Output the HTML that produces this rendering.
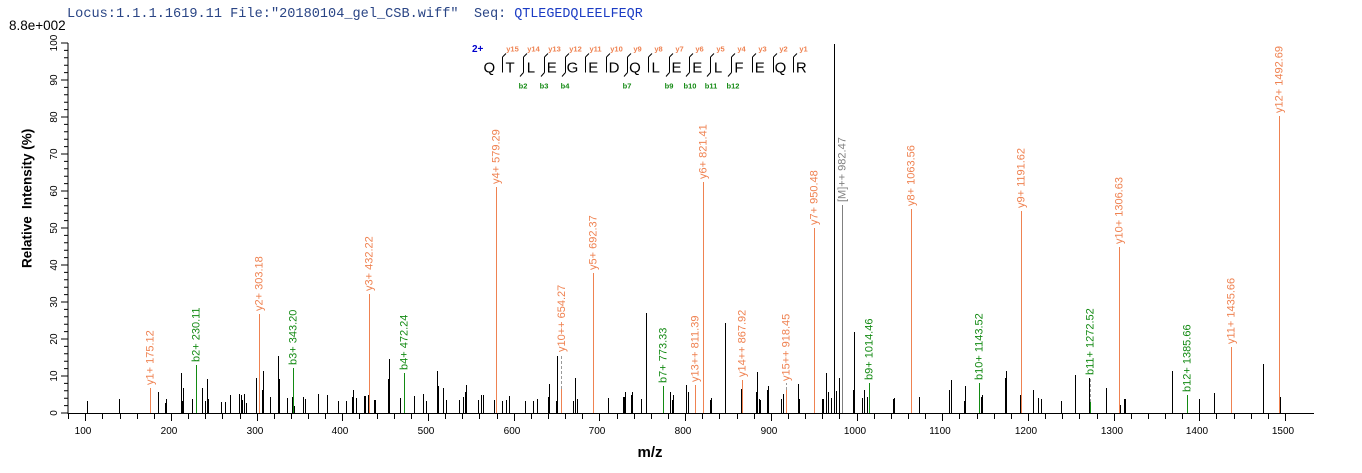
<!DOCTYPE html>
<html><head><meta charset="utf-8"><style>
html,body{margin:0;padding:0;background:#fff;}
svg{display:block;}
.l{font-family:"Liberation Sans",Arial,sans-serif;font-size:11px;dominant-baseline:central;}
.o{fill:#EF8251;}
.g{fill:#138a13;}
.gr{fill:#808080;}
.tk{font-family:"Liberation Sans",Arial,sans-serif;font-size:10px;fill:#000;}
</style></head><body>
<svg width="1362" height="473" viewBox="0 0 1362 473" xmlns="http://www.w3.org/2000/svg">
<rect width="1362" height="473" fill="#fff"/>
<!-- header -->
<text x="67" y="17" font-family="Liberation Mono, monospace" font-size="13.6" fill="#2a4585">Locus:1.1.1.1619.11 File:"20180104_gel_CSB.wiff"</text>
<text x="474" y="17" font-family="Liberation Mono, monospace" font-size="13.4" fill="#2a4585">Seq: <tspan fill="#1b3cc4">QTLEGEDQLEELFEQR</tspan></text>
<text x="9" y="30" font-family="Liberation Sans, Arial, sans-serif" font-size="13.5" fill="#000">8.8e+002</text>

<!-- axes -->
<path d="M68 43V413.5M67.5 413.5H1314" stroke="#000" stroke-width="1" fill="none"/>
<!-- y ticks -->
<path stroke="#000" stroke-width="1" fill="none" d="M61 413H68M64 405.6H68M64 398.2H68M64 390.8H68M64 383.4H68M61 376H68M64 368.6H68M64 361.2H68M64 353.8H68M64 346.4H68M61 339H68M64 331.6H68M64 324.2H68M64 316.8H68M64 309.4H68M61 302H68M64 294.6H68M64 287.2H68M64 279.8H68M64 272.4H68M61 265H68M64 257.6H68M64 250.2H68M64 242.8H68M64 235.4H68M61 228H68M64 220.6H68M64 213.2H68M64 205.8H68M64 198.4H68M61 191H68M64 183.6H68M64 176.2H68M64 168.8H68M64 161.4H68M61 154H68M64 146.6H68M64 139.2H68M64 131.8H68M64 124.4H68M61 117H68M64 109.6H68M64 102.2H68M64 94.8H68M64 87.4H68M61 80H68M64 72.6H68M64 65.2H68M64 57.8H68M64 50.4H68M61 43H68"/>
<!-- y tick labels -->
<g class="tk" text-anchor="middle" style="dominant-baseline:central">
<text transform="translate(54.5,413) rotate(-90)">0</text>
<text transform="translate(54.5,376) rotate(-90)">10</text>
<text transform="translate(54.5,339) rotate(-90)">20</text>
<text transform="translate(54.5,302) rotate(-90)">30</text>
<text transform="translate(54.5,265) rotate(-90)">40</text>
<text transform="translate(54.5,228) rotate(-90)">50</text>
<text transform="translate(54.5,191) rotate(-90)">60</text>
<text transform="translate(54.5,154) rotate(-90)">70</text>
<text transform="translate(54.5,117) rotate(-90)">80</text>
<text transform="translate(54.5,80) rotate(-90)">90</text>
<text transform="translate(54.5,43) rotate(-90)">100</text>
</g>
<!-- y title -->
<text transform="translate(27,268) rotate(-90)" font-family="Liberation Sans, Arial, sans-serif" font-size="13.5" font-weight="bold" style="dominant-baseline:central">Relative</text>
<text transform="translate(27,209) rotate(-90)" font-family="Liberation Sans, Arial, sans-serif" font-size="13.5" font-weight="bold" style="dominant-baseline:central">Intensity (%)</text>

<!-- x ticks -->
<path stroke="#000" stroke-width="1" fill="none" d="M68.5 413V419M85.5 413V421M102.5 413V419M120.5 413V419M137.5 413V419M154.5 413V419M171.5 413V421M188.5 413V419M205.5 413V419M222.5 413V419M240.5 413V419M257.5 413V421M274.5 413V419M291.5 413V419M308.5 413V419M325.5 413V419M342.5 413V421M359.5 413V419M377.5 413V419M394.5 413V419M411.5 413V419M428.5 413V421M445.5 413V419M462.5 413V419M479.5 413V419M497.5 413V419M514.5 413V421M531.5 413V419M548.5 413V419M565.5 413V419M582.5 413V419M599.5 413V421M617.5 413V419M634.5 413V419M651.5 413V419M668.5 413V419M685.5 413V421M702.5 413V419M719.5 413V419M737.5 413V419M754.5 413V419M771.5 413V421M788.5 413V419M805.5 413V419M822.5 413V419M839.5 413V419M857.5 413V421M874.5 413V419M891.5 413V419M908.5 413V419M925.5 413V419M942.5 413V421M959.5 413V419M977.5 413V419M994.5 413V419M1011.5 413V419M1028.5 413V421M1045.5 413V419M1062.5 413V419M1079.5 413V419M1097.5 413V419M1114.5 413V421M1131.5 413V419M1148.5 413V419M1165.5 413V419M1182.5 413V419M1199.5 413V421M1216.5 413V419M1234.5 413V419M1251.5 413V419M1268.5 413V419M1285.5 413V421"/>
<g class="tk" text-anchor="middle">
<text x="83" y="434">100</text><text x="169" y="434">200</text><text x="255" y="434">300</text><text x="340" y="434">400</text><text x="426" y="434">500</text><text x="512" y="434">600</text><text x="597" y="434">700</text><text x="683" y="434">800</text><text x="769" y="434">900</text><text x="855" y="434">1000</text><text x="940" y="434">1100</text><text x="1026" y="434">1200</text><text x="1112" y="434">1300</text><text x="1197" y="434">1400</text><text x="1283" y="434">1500</text>
</g>
<text x="650" y="457" text-anchor="middle" font-family="Liberation Sans, Arial, sans-serif" font-size="15" font-weight="bold">m/z</text>

<!-- black peaks -->
<path stroke="#000" stroke-width="1" fill="none" shape-rendering="crispEdges" d="M87.5 413V401M119.5 413V399M158.5 413V392M165.5 413V403M166.5 413V399M181.5 413V373M182.5 413V401M183.5 413V388M192.5 413V399M202.5 413V388M205.5 413V401M207.5 413V379M208.5 413V399M221.5 413V402M225.5 413V402M230.5 413V395M239.5 413V394M241.5 413V395M242.5 413V400M244.5 413V394M246.5 413V403M256.5 413V378M262.5 413V390M263.5 413V371M270.5 413V397M278.5 413V356M279.5 413V379M287.5 413V398M292.5 413V397M294.5 413V406M303.5 413V397M305.5 413V399M318.5 413V394M327.5 413V395M338.5 413V401M346.5 413V401M352.5 413V397M353.5 413V390M356.5 413V398M364.5 413V396M365.5 413V396M368.5 413V395M374.5 413V400M375.5 413V400M388.5 413V379M389.5 413V359M400.5 413V398M414.5 413V396M423.5 413V394M426.5 413V401M437.5 413V371M438.5 413V386M443.5 413V388M446.5 413V400M459.5 413V400M463.5 413V397M465.5 413V392M466.5 413V385M478.5 413V400M481.5 413V395M483.5 413V395M494.5 413V400M502.5 413V401M506.5 413V400M509.5 413V396M525.5 413V401M533.5 413V401M537.5 413V399M548.5 413V397M549.5 413V384M556.5 413V401M557.5 413V356M561.5 413V401M573.5 413V401M575.5 413V378M577.5 413V399M608.5 413V398M623.5 413V397M624.5 413V397M625.5 413V392M631.5 413V395M632.5 413V392M641.5 413V399M646.5 413V313M670.5 413V392M672.5 413V400M673.5 413V395M686.5 413V385M688.5 413V392M710.5 413V400M711.5 413V398M725.5 413V323M741.5 413V389M756.5 413V392M757.5 413V372M759.5 413V399M760.5 413V400M767.5 413V390M768.5 413V386M781.5 413V399M783.5 413V394M798.5 413V384M799.5 413V399M822.5 413V399M823.5 413V399M826.5 413V373M828.5 413V392M831.5 413V398M834.5 413V44M836.5 413V391M839.5 413V378M853.5 413V390M854.5 413V332M862.5 413V398M864.5 413V390M867.5 413V397M893.5 413V399M894.5 413V398M919.5 413V397M949.5 413V390M951.5 413V380M964.5 413V401M965.5 413V386M981.5 413V397M982.5 413V395M1005.5 413V378M1006.5 413V371M1020.5 413V395M1033.5 413V390M1038.5 413V398M1041.5 413V399M1061.5 413V401M1075.5 413V375M1089.5 413V378M1106.5 413V388M1120.5 413V405M1124.5 413V399M1125.5 413V399M1172.5 413V371M1199.5 413V399M1214.5 413V393M1263.5 413V364M1280.5 413V397"/>

<!-- annotated orange peaks -->
<path stroke="#EF8251" stroke-width="1" fill="none" shape-rendering="crispEdges" d="M150.5 413V388M259.5 413V314M369.5 413V294M496.5 413V187M561.5 413V389M593.5 413V273M695.5 413V385M703.5 413V182M742.5 413V380M786.5 413V390M814.5 413V228M911.5 413V209M1021.5 413V211M1119.5 413V247M1231.5 413V347M1279.5 413V116"/>
<!-- green peaks -->
<path stroke="#138a13" stroke-width="1" fill="none" shape-rendering="crispEdges" d="M196.5 413V365M293.5 413V368M404.5 413V373M663.5 413V386M869.5 413V383M979.5 413V383M1090.5 413V402M1187.5 413V395"/>
<!-- gray M peak -->
<path stroke="#808080" stroke-width="1" fill="none" shape-rendering="crispEdges" d="M842.5 413V205"/>
<!-- dashed connectors -->
<path stroke="#999" stroke-width="1" fill="none" stroke-dasharray="3,2" d="M561.5 389V354M786.5 390V383M1090.5 402V377"/>

<!-- peak labels -->
<g class="l">
<text class="o" transform="translate(150.5,385) rotate(-90)">y1+ 175.12</text>
<text class="g" transform="translate(196.5,362) rotate(-90)">b2+ 230.11</text>
<text class="o" transform="translate(259.5,311) rotate(-90)">y2+ 303.18</text>
<text class="g" transform="translate(293.5,365) rotate(-90)">b3+ 343.20</text>
<text class="o" transform="translate(369.5,291) rotate(-90)">y3+ 432.22</text>
<text class="g" transform="translate(404.5,370) rotate(-90)">b4+ 472.24</text>
<text class="o" transform="translate(496.5,184) rotate(-90)">y4+ 579.29</text>
<text class="o" transform="translate(562,352) rotate(-90)">y10++ 654.27</text>
<text class="o" transform="translate(593.5,270) rotate(-90)">y5+ 692.37</text>
<text class="g" transform="translate(663.5,383) rotate(-90)">b7+ 773.33</text>
<text class="o" transform="translate(695.5,382) rotate(-90)">y13++ 811.39</text>
<text class="o" transform="translate(703.5,179) rotate(-90)">y6+ 821.41</text>
<text class="o" transform="translate(742.5,377) rotate(-90)">y14++ 867.92</text>
<text class="o" transform="translate(786.5,381) rotate(-90)">y15++ 918.45</text>
<text class="o" transform="translate(814.5,225) rotate(-90)">y7+ 950.48</text>
<text class="gr" transform="translate(842.5,202) rotate(-90)">[M]++ 982.47</text>
<text class="g" transform="translate(869.5,380) rotate(-90)">b9+ 1014.46</text>
<text class="o" transform="translate(911.5,206) rotate(-90)">y8+ 1063.56</text>
<text class="g" transform="translate(979.5,380) rotate(-90)">b10+ 1143.52</text>
<text class="o" transform="translate(1021.5,208) rotate(-90)">y9+ 1191.62</text>
<text class="g" transform="translate(1090.5,375) rotate(-90)">b11+ 1272.52</text>
<text class="o" transform="translate(1119.5,244) rotate(-90)">y10+ 1306.63</text>
<text class="g" transform="translate(1187.5,392) rotate(-90)">b12+ 1385.66</text>
<text class="o" transform="translate(1231.5,344) rotate(-90)">y11+ 1435.66</text>
<text class="o" transform="translate(1279.5,113) rotate(-90)">y12+ 1492.69</text>
</g>

<!-- sequence diagram -->
<text x="472" y="52" font-family="Liberation Sans, Arial, sans-serif" font-size="10" font-weight="bold" fill="#0000cc">2+</text>
<g font-family="Liberation Sans, Arial, sans-serif" font-size="15" fill="#000" text-anchor="middle">
<text x="489.3" y="72.7">Q</text><text x="510.1" y="72.7">T</text><text x="530.9" y="72.7">L</text><text x="551.7" y="72.7">E</text><text x="572.5" y="72.7">G</text><text x="593.3" y="72.7">E</text><text x="614.1" y="72.7">D</text><text x="634.9" y="72.7">Q</text><text x="655.7" y="72.7">L</text><text x="676.5" y="72.7">E</text><text x="697.3" y="72.7">E</text><text x="718.1" y="72.7">L</text><text x="738.9" y="72.7">F</text><text x="759.7" y="72.7">E</text><text x="780.5" y="72.7">Q</text><text x="801.3" y="72.7">R</text>
</g>
<path stroke="#000" stroke-width="1" fill="none" d="M502.5 57V72.5M502.5 57L506 53.5M523.5 57V72.5M523.5 57L527 53.5M544.5 57V72.5M544.5 57L548 53.5M565.5 57V72.5M565.5 57L569 53.5M585.5 57V72.5M585.5 57L589 53.5M606.5 57V72.5M606.5 57L610 53.5M627.5 57V72.5M627.5 57L631 53.5M648.5 57V72.5M648.5 57L652 53.5M669.5 57V72.5M669.5 57L673 53.5M689.5 57V72.5M689.5 57L693 53.5M710.5 57V72.5M710.5 57L714 53.5M731.5 57V72.5M731.5 57L735 53.5M752.5 57V72.5M752.5 57L756 53.5M773.5 57V72.5M773.5 57L777 53.5M793.5 57V72.5M793.5 57L797 53.5M523.5 72.5L520 76.5M544.5 72.5L541 76.5M565.5 72.5L562 76.5M627.5 72.5L624 76.5M669.5 72.5L666 76.5M689.5 72.5L686 76.5M710.5 72.5L707 76.5M731.5 72.5L728 76.5"/>
<g font-family="Liberation Sans, Arial, sans-serif" font-size="7.5" font-weight="bold" fill="#EF8251" text-anchor="middle">
<text x="512.5" y="51.5">y15</text><text x="533.5" y="51.5">y14</text><text x="554.5" y="51.5">y13</text><text x="575.5" y="51.5">y12</text><text x="595.5" y="51.5">y11</text><text x="616.5" y="51.5">y10</text><text x="637.5" y="51.5">y9</text><text x="658.5" y="51.5">y8</text><text x="679.5" y="51.5">y7</text><text x="699.5" y="51.5">y6</text><text x="720.5" y="51.5">y5</text><text x="741.5" y="51.5">y4</text><text x="762.5" y="51.5">y3</text><text x="783.5" y="51.5">y2</text><text x="803.5" y="51.5">y1</text>
</g>
<g font-family="Liberation Sans, Arial, sans-serif" font-size="7.5" font-weight="bold" fill="#138a13" text-anchor="middle">
<text x="523" y="88.3">b2</text><text x="544" y="88.3">b3</text><text x="565" y="88.3">b4</text><text x="627" y="88.3">b7</text><text x="669" y="88.3">b9</text><text x="690" y="88.3">b10</text><text x="711" y="88.3">b11</text><text x="733" y="88.3">b12</text>
</g>
</svg>
</body></html>
